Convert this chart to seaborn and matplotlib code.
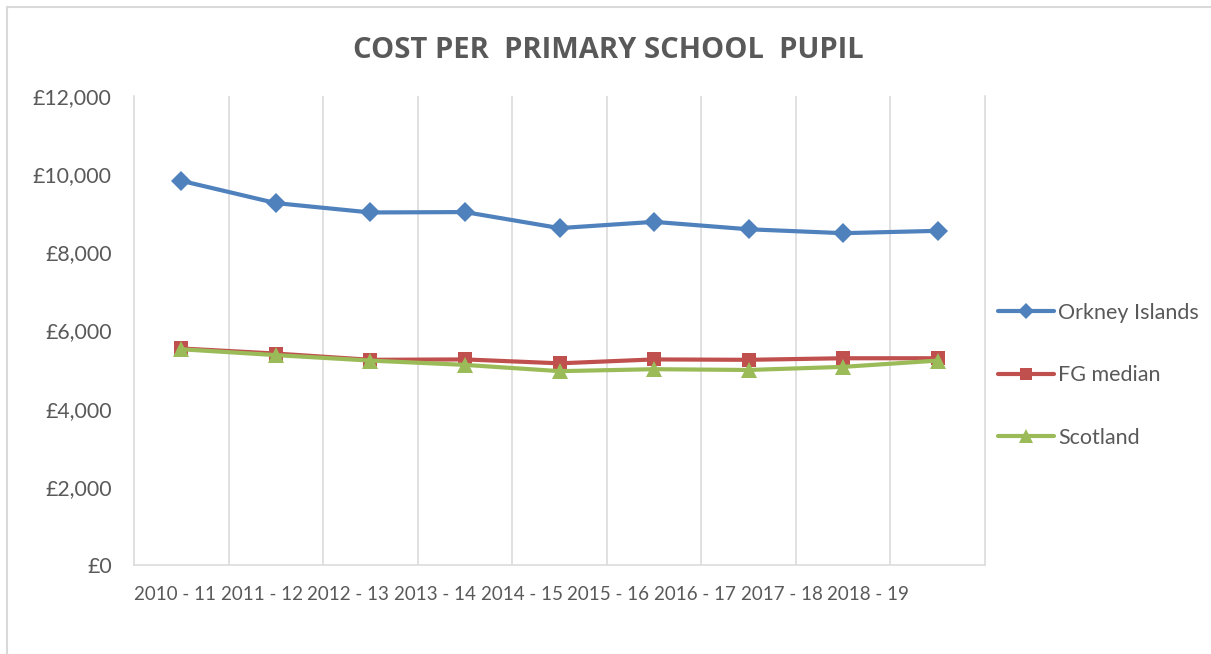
import numpy as np
import pandas as pd
import matplotlib
matplotlib.use("Agg")
import matplotlib.pyplot as plt
import seaborn as sns
from matplotlib.lines import Line2D
from matplotlib.ticker import FuncFormatter

sns.set_theme(style="white")
plt.rcParams["font.family"] = ["Lato", "DejaVu Sans"]

years = ["2010 - 11", "2011 - 12", "2012 - 13", "2013 - 14", "2014 - 15",
         "2015 - 16", "2016 - 17", "2017 - 18", "2018 - 19"]
orkney = [9830, 9260, 9020, 9030, 8620, 8780, 8590, 8490, 8550]
fg_median = [5540, 5410, 5250, 5260, 5160, 5260, 5250, 5290, 5290]
scotland = [5520, 5370, 5230, 5120, 4960, 5010, 4990, 5070, 5230]
y_ticks = [0, 2000, 4000, 6000, 8000, 10000, 12000]

series = {
    "Orkney Islands": (orkney, "#4f81bd", "D", 10),
    "FG median": (fg_median, "#c0504d", "s", 9.5),
    "Scotland": (scotland, "#9bbb59", "^", 12),
}

grey = "#595959"
light = "#d9d9d9"

fig = plt.figure(figsize=(12.11, 6.54), dpi=100)
ax = fig.add_axes([134 / 1211, 1 - 565 / 654, (985 - 134) / 1211, (565 - 96) / 654])

pos = np.arange(len(years))
handles = []
for name, (vals, col, mk, ms) in series.items():
    df = pd.DataFrame({"pos": pos, "value": vals})
    sns.lineplot(data=df, x="pos", y="value", ax=ax, color=col, marker=mk,
                 markersize=ms, markeredgecolor=col, markeredgewidth=0,
                 linewidth=3.0, legend=False)
    handles.append(Line2D([], [], color=col, marker=mk, markersize=ms * 0.85,
                          markeredgewidth=0, linewidth=3.0, label=name))

ax.set_xlim(-0.5, len(years) - 0.5)
ax.set_ylim(0, 12000)
ax.set_yticks(y_ticks)
ax.yaxis.set_major_formatter(FuncFormatter(lambda v, p: f"£{v:,.0f}"))

# category boundary gridlines
ax.set_xticks(np.arange(0.5, len(years) - 1, 1.0), minor=True)
ax.grid(which="minor", axis="x", color=light, linewidth=1.1)
ax.grid(which="major", visible=False)

# labels packed together like the original
label_pos = -0.5 + 0.9165 * pos
ax.set_xticks(label_pos)
ax.set_xticklabels(years, ha="left", fontsize=13.5, color=grey)
ax.tick_params(axis="x", which="both", length=0, pad=15)
ax.tick_params(axis="y", length=0, pad=16, labelsize=15.3, labelcolor=grey)
ax.set_xlabel("")
ax.set_ylabel("")

for s in ["left", "right", "bottom"]:
    ax.spines[s].set_visible(True)
    ax.spines[s].set_color(light)
    ax.spines[s].set_linewidth(1.1)
ax.spines["top"].set_visible(False)

fig.text(0.502, 1 - 51 / 654, "COST PER  PRIMARY SCHOOL  PUPIL", ha="center",
         va="center", fontsize=21, fontweight="bold", color=grey,
         family=["Open Sans", "DejaVu Sans"])

fig.legend(handles=handles, loc="upper left", bbox_to_anchor=(998 / 1211, 1 - 303 / 654),
           frameon=False, fontsize=15.5, handlelength=2.6, handletextpad=0.2,
           labelspacing=1.97, borderpad=0, borderaxespad=0, labelcolor=grey)

# outer chart border (top and left visible)
fig.add_artist(Line2D([7 / 1211, 1], [1 - 7 / 654, 1 - 7 / 654], color=light, linewidth=1.5,
                      transform=fig.transFigure))
fig.add_artist(Line2D([7 / 1211, 7 / 1211], [0, 1 - 7 / 654], color=light, linewidth=1.5,
                      transform=fig.transFigure))

fig.savefig("out.png", dpi=100)
